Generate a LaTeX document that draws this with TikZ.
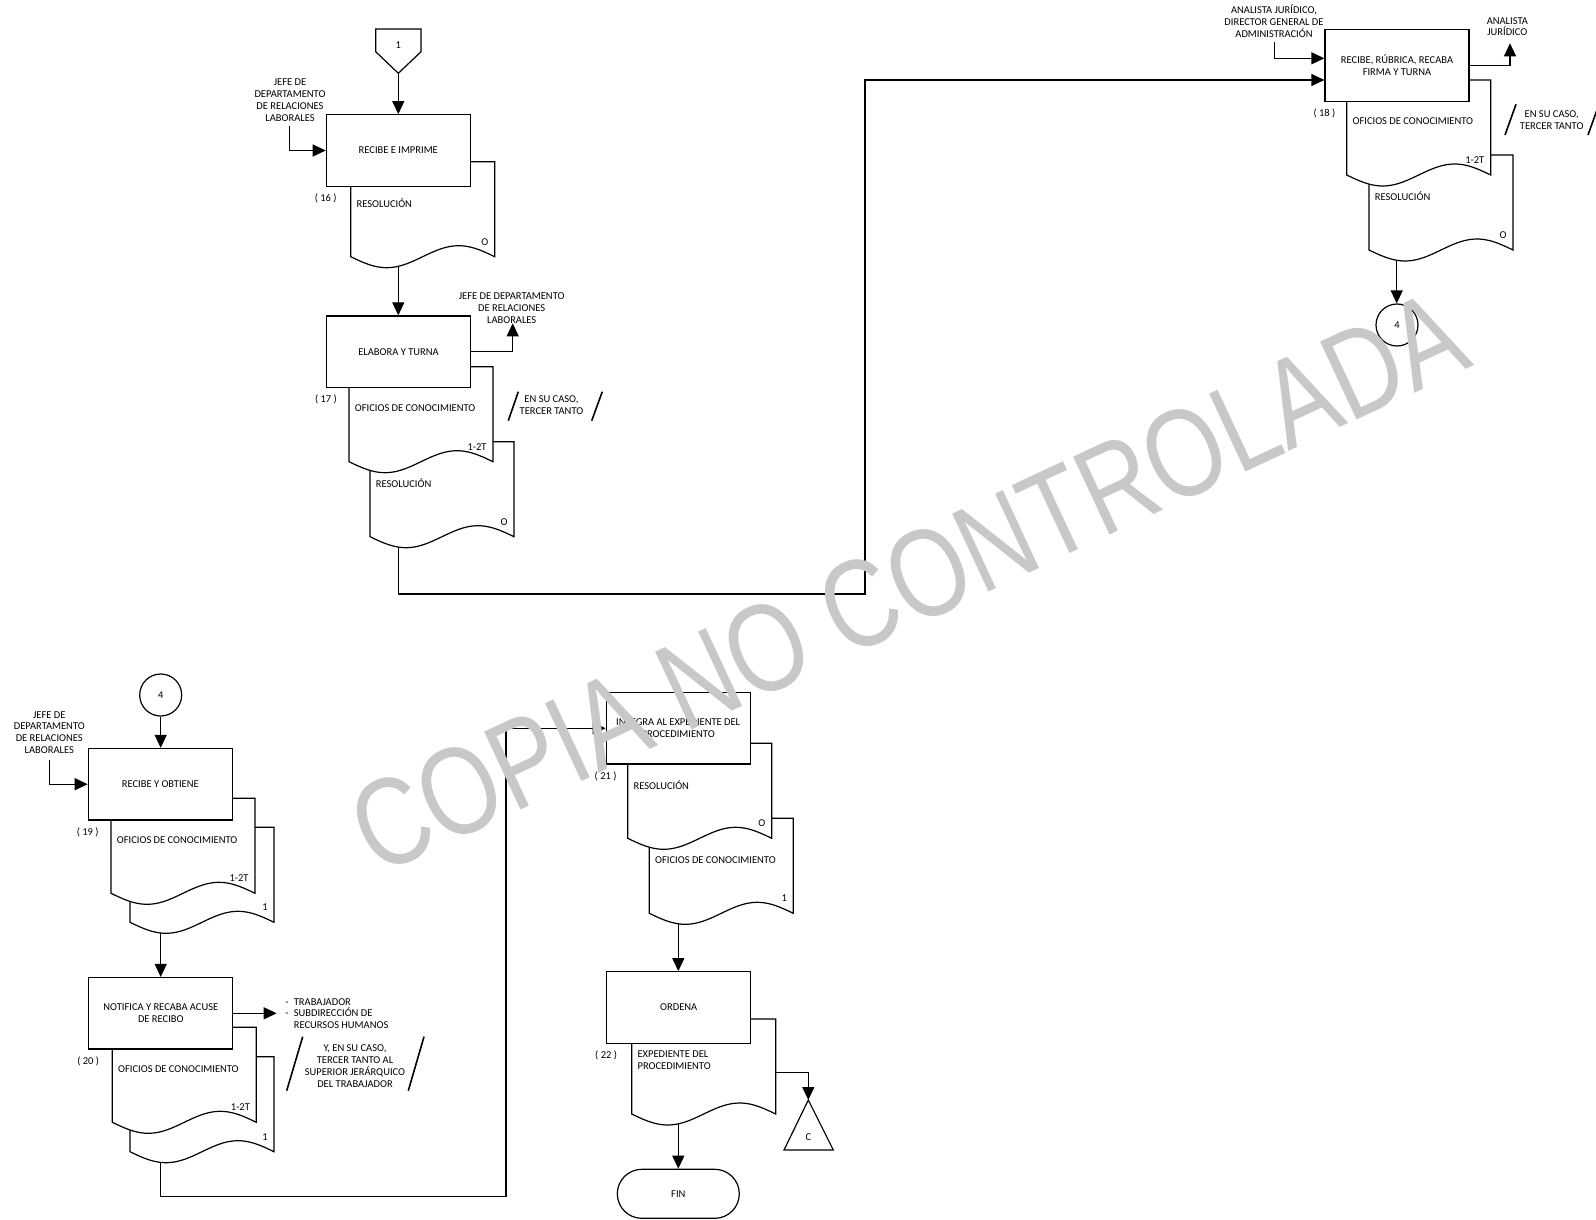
\documentclass[tikz,border=0pt]{standalone}
\usepackage{fontspec}
\setmainfont{Carlito}
\newfontfamily\stampfont{Liberation Sans}
\usepackage{tikz}
\usetikzlibrary{arrows.meta}
\definecolor{stampgray}{HTML}{C8C8C8}

% paper sheet with wavy bottom: name, left, top, outlet offset, title, corner mark
\newcommand{\docsheet}[6]{%
  \draw[sheet] (#2,#3) -- (#2,#3+95)
    -- plot[domain=0:1,samples=40] ({#2+144*\x},{#3+95+11*sin(360*\x)})
    -- (#2+144,#3) -- cycle;
  \node[sheettitle] (#1t) at (#2+5.5,#3+41.5) {#5};
  \node[sheetmark] (#1m) at (#2+138,#3+80) {#6};
  \coordinate (#1) at ({#2+#4},{#3+95+11*sin(2.5*#4)});
}

\begin{document}
\begin{tikzpicture}[x=0.5pt,y=-0.5pt,
  every node/.style={font=\fontsize{5.25}{5.9}\selectfont},
  stepbox/.style={draw,fill=white,line width=0.6pt,minimum width=72pt,
    minimum height=35.75pt,align=center,inner sep=1pt},
  sheet/.style={draw,fill=white,line width=0.6pt},
  sheettitle/.style={anchor=west,align=left,inner sep=0pt},
  sheetmark/.style={anchor=east,inner sep=0pt},
  stepnum/.style={inner sep=0pt},
  actor/.style={align=center,inner sep=0pt},
  wire/.style={line width=0.6pt},
  flow/.style={line width=0.6pt,-{Triangle[length=6.5pt,width=6pt]}},
  slash/.style={line width=0.8pt},
  linknode/.style={draw,circle,fill=white,line width=0.6pt,minimum size=21pt,inner sep=0pt},
  endnode/.style={draw,fill=white,line width=0.6pt,rounded corners=12.25pt,
    minimum width=61pt,minimum height=24.5pt},
  stamp/.style={font=\stampfont\fontsize{50}{50}\selectfont,text=stampgray,
    rotate=25,inner sep=0pt}]
  \useasboundingbox (0,0) rectangle (1596,1220);

  % off-page connector
  \draw[wire,fill=white] (375.7,29) -- (421,29) -- (421,51.7) -- (398.3,73.3)
    -- (375.7,51.7) -- cycle;
  \node (p1) at (398.3,45) {1};
  \coordinate (p1tip) at (398.3,73.3);

  % step 16
  \docsheet{d16}{350.7}{161.7}{47.6}{RESOLUCIÓN}{O}
  \node[stepbox] (b16) at (398.3,150.5) {RECIBE E IMPRIME};
  \node[stepnum] (n16) at ([yshift=-5.75pt]b16.south west) {( 16 )};
  \node[actor] (a16) at (290,100) {JEFE DE\\DEPARTAMENTO\\DE RELACIONES\\LABORALES};
  \coordinate (e16) at (289.3,126);

  % step 17
  \docsheet{d17b}{370}{441.7}{28.5}{RESOLUCIÓN}{O}
  \docsheet{d17}{349}{366.7}{49.5}{OFICIOS DE CONOCIMIENTO}{1-2T}
  \node[stepbox] (b17) at (398.5,351.7) {ELABORA Y TURNA};
  \node[stepnum] (n17) at ([yshift=-5.75pt]b17.south west) {( 17 )};
  \node[actor] (a17) at (511.7,308) {JEFE DE DEPARTAMENTO\\DE RELACIONES\\LABORALES};
  \coordinate (o17) at (512.7,323.3);
  \node[actor] (s17) at (551.5,405.5) {EN SU CASO,\\TERCER TANTO};
  \draw[slash] (518.3,391.7) -- (508.3,420.7);
  \draw[slash] (602.3,391.7) -- (591.7,420.7);
  \coordinate (j17) at (865,594);

  % step 18
  \docsheet{d18b}{1369}{155}{27.7}{RESOLUCIÓN}{O}
  \docsheet{d18}{1346.7}{80}{50}{OFICIOS DE CONOCIMIENTO}{1-2T}
  \node[stepbox] (b18) at (1397,65.5) {RECIBE, RÚBRICA, RECABA\\FIRMA Y TURNA};
  \node[stepnum] (n18) at ([yshift=-5.75pt]b18.south west) {( 18 )};
  \node[actor] (a18) at (1274,21) {ANALISTA JURÍDICO,\\DIRECTOR GENERAL DE\\ADMINISTRACIÓN};
  \coordinate (e18) at (1274.3,41.7);
  \coordinate (i18) at ([yshift=-7.25pt]b18.west);
  \node[actor] (a18o) at (1507.3,26.7) {ANALISTA\\JURÍDICO};
  \coordinate (o18) at (1510,43.3);
  \node[actor] (s18) at (1551.7,120) {EN SU CASO,\\TERCER TANTO};
  \draw[slash] (1516,104.3) -- (1505,135);
  \draw[slash] (1599,104.3) -- (1588,135);
  \node[linknode] (c4a) at (1397,325) {4};

  % step 19
  \node[linknode] (c4b) at (160.7,695) {4};
  \docsheet{d19b}{130}{827.3}{30.7}{}{1}
  \docsheet{d19}{111}{798.3}{49.7}{OFICIOS DE CONOCIMIENTO}{1-2T}
  \node[stepbox] (b19) at (160.3,784.2) {RECIBE Y OBTIENE};
  \node[stepnum] (n19) at ([yshift=-5.75pt]b19.south west) {( 19 )};
  \node[actor] (a19) at (49.3,732.5) {JEFE DE\\DEPARTAMENTO\\DE RELACIONES\\LABORALES};
  \coordinate (e19) at (49.3,760);

  % step 20
  \docsheet{d20b}{130}{1056.7}{30.7}{}{1}
  \docsheet{d20}{112.3}{1027.3}{48.4}{OFICIOS DE CONOCIMIENTO}{1-2T}
  \node[stepbox] (b20) at (160.8,1013.3) {NOTIFICA Y RECABA ACUSE\\DE RECIBO};
  \node[stepnum] (n20) at ([yshift=-5.75pt]b20.south west) {( 20 )};
  \coordinate (o20) at (276.7,1013.3);
  \node[actor,align=left,anchor=west] (a20) at (285,1013.6)
    {-\enspace TRABAJADOR\\-\enspace SUBDIRECCIÓN DE\\\phantom{-}\enspace RECURSOS HUMANOS};
  \node[actor] (s20) at (355,1066) {Y, EN SU CASO,\\TERCER TANTO AL\\SUPERIOR JERÁRQUICO\\DEL TRABAJADOR};
  \draw[slash] (302.7,1036.7) -- (286.7,1090.7);
  \draw[slash] (424,1036.7) -- (408.3,1090.7);
  \coordinate (j20) at (506,1196.7);

  % step 21
  \docsheet{d21b}{649.3}{818.3}{29}{OFICIOS DE CONOCIMIENTO}{1}
  \docsheet{d21}{627.7}{743.3}{50.5}{RESOLUCIÓN}{O}
  \node[stepbox] (b21) at (678.2,728.3) {INTEGRA AL EXPEDIENTE DEL\\PROCEDIMIENTO};
  \node[stepnum] (n21) at ([yshift=-5.75pt]b21.south west) {( 21 )};

  % step 22
  \docsheet{d22}{631.7}{1019}{46.6}{EXPEDIENTE DEL\\PROCEDIMIENTO}{}
  \node[stepbox] (b22) at (678.7,1007.5) {ORDENA};
  \node[stepnum] (n22) at ([yshift=-5.75pt]b22.south west) {( 22 )};
  \coordinate (d22r) at (775,1072.7);
  \draw[wire,fill=white] (808.3,1100) -- (833.3,1150) -- (784,1150) -- cycle;
  \node (cA) at (808.3,1136.7) {C};
  \coordinate (triC) at (808.3,1100);
  \node[endnode] (fin) at (678.3,1193.8) {FIN};

  % connectors
  \draw[flow] (p1tip) -- (b16.north);
  \draw[flow] (e16) |- (b16.west);
  \draw[flow] (d16) -- (d16 |- b17.north);
  \draw[flow] (b17.east) -| (o17);
  \draw[flow] (d17b) |- (j17) |- (i18);
  \draw[flow] (e18) |- ([yshift=3.6pt]b18.west);
  \draw[flow] (b18.east) -| (o18);
  \draw[flow] (d18b) -- (d18b |- c4a.north);
  \draw[flow] (c4b.south) -- (c4b.south |- b19.north);
  \draw[flow] (e19) |- (b19.west);
  \draw[flow] (d19b) -- (d19b |- b20.north);
  \draw[flow] (b20.east) -- (o20);
  \draw[flow] (d20b) |- (j20) |- (b21.west);
  \draw[flow] (d21b) -- (d21b |- b22.north);
  \draw[flow] (d22) -- (d22 |- fin.north);
  \draw[flow] (d22r) -| (triC);

  % watermark
  \node[stamp] (wm) at (908,582) {\scalebox{1}[1.25]{COPIA NO CONTROLADA}};
\end{tikzpicture}
\end{document}
